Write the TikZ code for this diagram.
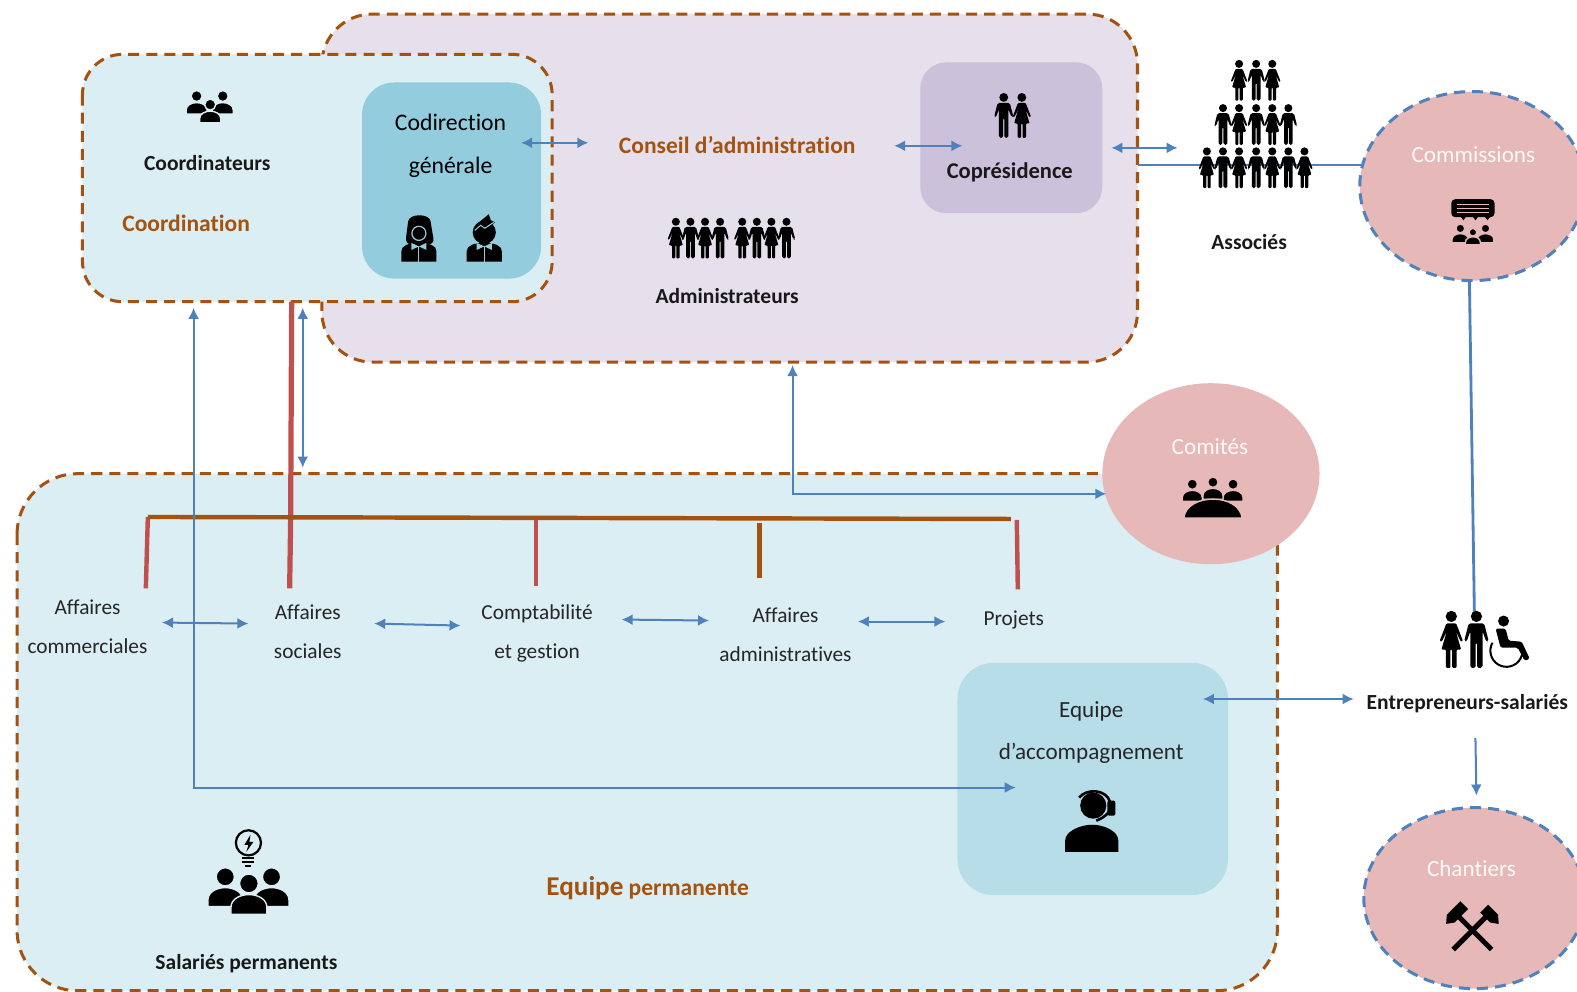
\documentclass[tikz,border=0pt]{standalone}
\usepackage{fontspec}
\setmainfont{Carlito}[Ligatures=CommonOff]
\usetikzlibrary{arrows.meta}

\definecolor{brownline}{HTML}{A5520F}
\definecolor{blueline}{HTML}{4F81BD}
\definecolor{redline}{HTML}{C0504D}
\definecolor{paleblue}{HTML}{DBEEF4}
\definecolor{palepurple}{HTML}{E6E0EC}
\definecolor{midblue}{HTML}{93CDDD}
\definecolor{softblue}{HTML}{B7DDE8}
\definecolor{midpurple}{HTML}{CCC1DA}
\definecolor{palered}{HTML}{E6B9B8}

\tikzset{
  >={Latex[length=5.5pt,width=5.5pt]},
  zonebox/.style={draw=brownline,line width=1.5pt,dash pattern=on 5.5pt off 3.5pt},
  circlezone/.style={draw=blueline,line width=1.5pt,dash pattern=on 5.5pt off 3.5pt,fill=palered},
  link/.style={draw=blueline,line width=1pt},
  thicklink/.style={draw=blueline,line width=1.4pt},
  plainlabel/.style={font=\fontsize{10.6}{19.5}\selectfont,text=black!85,align=center},
  boldlabel/.style={font=\fontsize{10.7}{19.5}\selectfont\bfseries,text=black!90,align=center},
  titlelabel/.style={font=\fontsize{11.7}{20}\selectfont\bfseries,text=brownline,align=center},
  whitelabel/.style={font=\fontsize{11.5}{20}\selectfont,text=white!92!palered},
  pics/manfig/.style={code={
    \fill (0,-16.5) circle (4);
    \fill[rounded corners=0.8pt] (-5.5,-11.5) -- (5.5,-11.5) -- (8.7,1) -- (7,1.5) -- (4.3,-6) -- (4.3,20) -- (0.5,20) -- (0.5,2) -- (-0.5,2) -- (-0.5,20) -- (-4.3,20) -- (-4.3,-6) -- (-7,1.5) -- (-8.7,1) -- cycle;
  }},
  pics/womanfig/.style={code={
    \fill (0,-16.5) circle (4);
    \fill[rounded corners=0.5pt] (-3.5,-11.5) -- (3.5,-11.5) -- (8.3,1) -- (6.8,1.5) -- (3.2,-6) -- (7,7) -- (3.8,7) -- (3.8,20) -- (0.6,20) -- (0.6,7) -- (-0.6,7) -- (-0.6,20) -- (-3.8,20) -- (-3.8,7) -- (-7,7) -- (-3.2,-6) -- (-6.8,1.5) -- (-8.3,1) -- cycle;
  }},
  pics/bustfig/.style={code={
    \fill[draw=#1,line width=0.7pt] (0,-8) circle (5.5);
    \fill[draw=#1,line width=0.7pt] (-10.5,10) -- (-10.5,6) .. controls (-10.5,1) and (-5,-1.5) .. (0,-1.5) .. controls (5,-1.5) and (10.5,1) .. (10.5,6) -- (10.5,10) -- cycle;
  }},
}

\begin{document}
\begin{tikzpicture}[x=0.5pt,y=-0.5pt]
  \clip (0,0) rectangle (1568,986);

  % zones
  \draw[zonebox,fill=palepurple,rounded corners=25pt] (320,14) rectangle (1131,360);
  \draw[zonebox,fill=paleblue,rounded corners=20pt] (82,54) rectangle (549,300);
  \draw[zonebox,fill=paleblue,rounded corners=30pt] (17,471) rectangle (1270,985);
  \fill[midblue,rounded corners=16pt] (360,82) rectangle (538,277);
  \fill[midpurple,rounded corners=13pt] (915,62) rectangle (1096,212);
  \fill[softblue,rounded corners=18pt] (952,659) rectangle (1221,890);

  % anchor points of the links
  \coordinate (codirArrow) at (518,142);
  \coordinate (conseilLeft) at (585,142);
  \coordinate (conseilRight) at (889,145);
  \coordinate (copresLeft) at (957,145);
  \coordinate (copresRight) at (1105,147);
  \coordinate (associesLeft) at (1171,147);
  \coordinate (conseilEdge) at (1131,164);
  \coordinate (commLeft) at (1356,164);
  \coordinate (commBottom) at (1461,278);
  \coordinate (entrTop) at (1466,612);
  \coordinate (entrBottom) at (1467,734);
  \coordinate (chantTop) at (1468,791);
  \coordinate (coordBottom) at (290,300);
  \coordinate (coordDown) at (301,306);
  \coordinate (equipeTop) at (301,465);
  \coordinate (coordLeft) at (192.5,306);
  \coordinate (accompLeft) at (1010,783);
  \coordinate (conseilBottom) at (788,363);
  \coordinate (comitesLeft) at (1100,491);
  \coordinate (accompRight) at (1196,695);
  \coordinate (entrLeft) at (1346,695);
  \coordinate (barLeft) at (147,514);
  \coordinate (barRight) at (1005,516);
  \coordinate (barSoc) at (289,515);
  \coordinate (barCompta) at (533,516);
  \coordinate (barAdmin) at (755,520);
  \coordinate (barProj) at (1011,517);
  \coordinate (affCom) at (145,585);
  \coordinate (affSoc) at (288,585);
  \coordinate (affCompta) at (533,583);
  \coordinate (affAdmin) at (755,575);
  \coordinate (affProj) at (1012,586);
  \coordinate (rowA) at (161,619);
  \coordinate (rowB) at (247,620);
  \coordinate (rowC) at (372,620);
  \coordinate (rowD) at (458,622);
  \coordinate (rowE) at (618,616);
  \coordinate (rowF) at (705,617);
  \coordinate (rowG) at (853,618);
  \coordinate (rowH) at (940,618);

  % links under the circles
  \draw[thicklink] (conseilEdge) -- (commLeft);
  \draw[thicklink] (commBottom) -- (entrTop);
  \draw[redline,line width=2.6pt] (coordBottom) -- (barSoc) -- (affSoc);
  \draw[redline,line width=2.2pt] (barLeft) -- (affCom);
  \draw[redline,line width=2.2pt] (barCompta) -- (affCompta);
  \draw[brownline,line width=2.2pt] (barAdmin) -- (affAdmin);
  \draw[redline,line width=2.2pt] (barProj) -- (affProj);
  \draw[brownline,line width=2.2pt] (barLeft) -- (barRight);

  % circles
  \fill[palered] (1204,471) ellipse (108 and 90);
  \draw[circlezone] (1464,185) ellipse (112 and 94);
  \draw[circlezone] (1466,893) ellipse (110 and 90);

  % links
  \draw[link,<->] (codirArrow) -- (conseilLeft);
  \draw[link,<->] (conseilRight) -- (copresLeft);
  \draw[link,<->] (copresRight) -- (associesLeft);
  \draw[link,<->] (coordDown) -- (equipeTop);
  \draw[link,<->] (coordLeft) |- (accompLeft);
  \draw[link,<->] (conseilBottom) |- (comitesLeft);
  \draw[link,<->] (accompRight) -- (entrLeft);
  \draw[link,->] (entrBottom) -- (chantTop);
  \draw[link,<->] (rowA) -- (rowB);
  \draw[link,<->] (rowC) -- (rowD);
  \draw[link,<->] (rowE) -- (rowF);
  \draw[link,<->] (rowG) -- (rowH);

  % labels
  \node[boldlabel] (coordinateurs) at (206,162) {Coordinateurs};
  \node[titlelabel] (coordination) at (185,222) {Coordination};
  \node[plainlabel,font=\fontsize{11.8}{21.5}\selectfont,text=black] (codirection) at (448,145) {Codirection\\générale};
  \node[titlelabel] (conseil) at (733,144) {Conseil d’administration};
  \node[boldlabel] (administrateurs) at (723,294) {Administrateurs};
  \node[boldlabel,font=\fontsize{11.2}{20}\selectfont\bfseries] (copresidence) at (1004,171) {Coprésidence};
  \node[boldlabel] (associes) at (1242,241) {Associés};
  \node[whitelabel] (commissions) at (1465,154) {Commissions};
  \node[whitelabel] (comites) at (1203,444) {Comités};
  \node[whitelabel] (chantiers) at (1463,864) {Chantiers};
  \node[boldlabel] (entrepreneurs) at (1459,700) {Entrepreneurs-salariés};
  \node[plainlabel] (affcom) at (87,623) {Affaires\\commerciales};
  \node[plainlabel] (affsoc) at (306,628) {Affaires\\sociales};
  \node[plainlabel] (compta) at (534,630) {Comptabilité\\et gestion};
  \node[plainlabel] (affadmin) at (781,631) {Affaires\\administratives};
  \node[plainlabel] (projets) at (1008,616) {Projets};
  \node[plainlabel,font=\fontsize{11.5}{21}\selectfont] (accomp) at (1085,728) {Equipe\\d’accompagnement};
  \node[boldlabel] (salaries) at (245,958) {Salariés permanents};
  \node[titlelabel,font=\fontsize{11.7}{20}\selectfont\bfseries] (permanente) at (644,883) {{\fontsize{13.5}{20}\selectfont Equipe} permanente};

  % figures of the associates
  \foreach \x in {1232,1265} \pic at (\x,80) {womanfig};
  \pic at (1249,80) {manfig};
  \foreach \x in {1216,1249,1281} \pic at (\x,124) {manfig};
  \foreach \x in {1232,1265} \pic at (\x,124) {womanfig};
  \foreach \x in {1200,1232,1265,1297} \pic at (\x,167) {womanfig};
  \foreach \x in {1216,1249,1281} \pic at (\x,167) {manfig};

  % figures of the board
  \foreach \x in {672,701,738,767} \pic at (\x,237) {womanfig};
  \foreach \x in {686.5,716,752.5,782} \pic at (\x,237) {manfig};
  \pic[scale=1.1] at (998,115) {manfig};
  \pic[scale=1.1] at (1016,115) {womanfig};

  % figures of the entrepreneurs
  \pic[scale=1.4] at (1443,636) {womanfig};
  \pic[scale=1.4] at (1468,636) {manfig};
  \fill (1495,617.5) circle (5.5);
  \fill[rounded corners=0.8pt] (1487,625) -- (1497,625) -- (1500,637) -- (1513,638) -- (1521,655) -- (1516,657) -- (1509,644) -- (1492,644) -- cycle;
  \draw[line width=1pt] (1484,639) arc (210:-30:16);

  % coordinators
  \pic at (195.5,103.5) {bustfig=paleblue};
  \pic at (221.5,103.5) {bustfig=paleblue};
  \pic at (209,112) {bustfig=paleblue};

  % co-directors
  \fill[rounded corners=3pt] (403,243) -- (405,226) .. controls (407,212) and (427,212) .. (429,226) -- (432,243) -- cycle;
  \fill[draw=midblue,line width=0.6pt] (416.5,232) circle (7);
  \fill (399,260) -- (399,250) .. controls (399,244) and (406,242) .. (416.5,241) .. controls (427,242) and (434,244) .. (434,250) -- (434,260) -- cycle;
  \fill[midblue] (416.5,245) -- (409,241.5) -- (409,248.5) -- cycle;
  \fill[midblue] (416.5,245) -- (424,241.5) -- (424,248.5) -- cycle;
  \draw[midblue,line width=0.5pt] (416.5,245) -- (416.5,260);
  \fill (481.5,231) circle (11.5);
  \fill (475,222) -- (486,213) -- (488,219) -- (492,221) -- (487,226) -- cycle;
  \fill (464,260) -- (464,250) .. controls (464,244) and (471,242) .. (481.5,241) .. controls (492,242) and (499,244) .. (499,250) -- (499,260) -- cycle;
  \fill[midblue] (481.5,245) -- (474,241.5) -- (474,248.5) -- cycle;
  \fill[midblue] (481.5,245) -- (489,241.5) -- (489,248.5) -- cycle;
  \draw[midblue,line width=0.5pt] (481.5,245) -- (481.5,260);
  \draw[midblue,line width=0.5pt] (472,229) -- (478,224) -- (482,227) -- (491,221);

  % committees
  \pic[scale=0.95] at (1185.5,489) {bustfig=palered};
  \pic[scale=0.95] at (1226,489) {bustfig=palered};
  \pic[scale=0.95] at (1206,487) {bustfig=palered};
  \fill[draw=palered,line width=0.7pt] (1177,515) .. controls (1180,490) and (1232,490) .. (1235,515) -- cycle;

  % commissions
  \fill[rounded corners=2pt] (1443,198) rectangle (1486,216);
  \foreach \x in {1452,1464,1476} \fill (\x,215) -- (\x+6,215) -- (\x+3,219) -- cycle;
  \foreach \y in {203,207,211} \draw[palered,line width=0.4pt] (1449,\y) -- (1480,\y);
  \pic[scale=0.8] at (1452,233.5) {bustfig=palered};
  \pic[scale=0.8] at (1477,233.5) {bustfig=palered};
  \pic[scale=0.7] at (1464.5,236.5) {bustfig=palered};

  % hammers of the sites
  \begin{scope}[shift={(1464,925)},rotate=45]
    \fill (-2.5,-19) rectangle (2.5,27);
    \fill (-7,-29) -- (12,-29) -- (12,-18) -- (-7,-18) -- (-14,-23) -- cycle;
  \end{scope}
  \begin{scope}[shift={(1464,925)},rotate=-45]
    \fill (-2.5,-19) rectangle (2.5,27);
    \fill (-7,-29) -- (7,-29) -- (14,-23) -- (7,-18) -- (-7,-18) -- cycle;
  \end{scope}

  % headset
  \fill (1087,801) circle (13);
  \fill (1059,847) -- (1059,836) .. controls (1059,826) and (1075,820) .. (1086,820) .. controls (1097,820) and (1112,826) .. (1112,836) -- (1112,847) -- cycle;
  \draw[line width=1.3pt] (1073,793) .. controls (1080,784) and (1100,784) .. (1104,798) .. controls (1106,806) and (1100,812) .. (1090,816);
  \fill[rounded corners=1pt] (1101,796) rectangle (1109,811);

  % permanent staff
  \pic[scale=1.65] at (224,885) {bustfig=paleblue};
  \pic[scale=1.65] at (270,885) {bustfig=paleblue};
  \pic[scale=1.7] at (247.5,892) {bustfig=paleblue};
  \draw[line width=1.1pt] (247,838) circle (12.5);
  \fill (249,830) -- (243,840) -- (247,840) -- (245,847) -- (252,837) -- (248,837) -- cycle;
  \foreach \y in {853,857} \draw[line width=1pt] (241,\y) -- (253,\y);
  \draw[line width=1pt] (244,861) -- (250,861);
\end{tikzpicture}
\end{document}
